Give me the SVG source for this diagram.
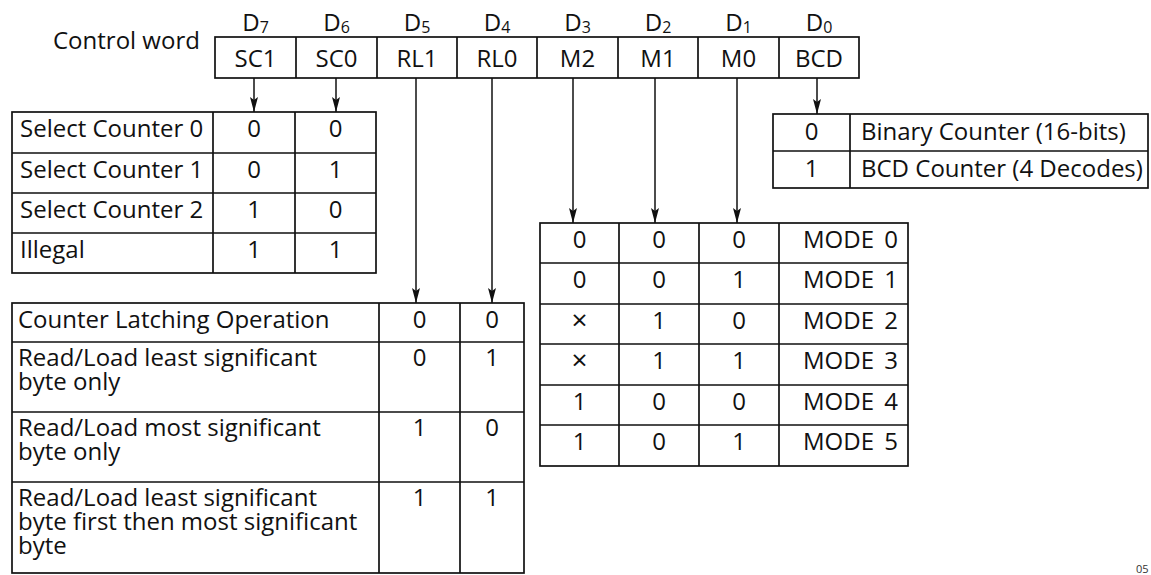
<svg xmlns="http://www.w3.org/2000/svg" width="1151" height="575" viewBox="0 0 1151 575">
<style>
  text { font-family: "Open Sans", "DejaVu Sans", sans-serif; font-size: 24px; fill: #111; }
  .c { text-anchor: middle; }
  .sub { font-size: 16px; }
  .x { font-size: 28px; }
  .box { fill: #fff; stroke: #111; stroke-width: 1.7; }
  .ln { stroke: #111; stroke-width: 1.7; fill: none; }
  .arr { stroke: #111; stroke-width: 1.5; fill: none; marker-end: url(#ah); }
  .fig { font-size: 11px; fill: #333; }
</style>
<defs>
  <marker id="ah" markerUnits="userSpaceOnUse" markerWidth="15" markerHeight="9" refX="15" refY="4.5" orient="auto">
    <path d="M0,0.5 L15,4.5 L0,8.5 L3,4.5 z" fill="#111"/>
  </marker>
</defs>
<rect width="1151" height="575" fill="#fff"/>

<g id="control-word">
  <text x="53" y="49">Control word</text>
  <rect class="box" x="215" y="37" width="644" height="41"/>
  <path class="ln" d="M296,37V78M377,37V78M457,37V78M537,37V78M618,37V78M698,37V78M779,37V78"/>
  <text class="c" x="255.5" y="31">D<tspan class="sub" dy="2">7</tspan></text>
  <text class="c" x="336.5" y="31">D<tspan class="sub" dy="2">6</tspan></text>
  <text class="c" x="417" y="31">D<tspan class="sub" dy="2">5</tspan></text>
  <text class="c" x="497" y="31">D<tspan class="sub" dy="2">4</tspan></text>
  <text class="c" x="577.5" y="31">D<tspan class="sub" dy="2">3</tspan></text>
  <text class="c" x="658" y="31">D<tspan class="sub" dy="2">2</tspan></text>
  <text class="c" x="738.5" y="31">D<tspan class="sub" dy="2">1</tspan></text>
  <text class="c" x="819" y="31">D<tspan class="sub" dy="2">0</tspan></text>
  <text class="c" x="255.5" y="67">SC1</text>
  <text class="c" x="336.5" y="67">SC0</text>
  <text class="c" x="417" y="67">RL1</text>
  <text class="c" x="497" y="67">RL0</text>
  <text class="c" x="577.5" y="67">M2</text>
  <text class="c" x="658" y="67">M1</text>
  <text class="c" x="738.5" y="67">M0</text>
  <text class="c" x="819" y="67">BCD</text>
</g>

<g id="table-select-counter">
  <rect class="box" x="12" y="112" width="364" height="161"/>
  <path class="ln" d="M213,112V273M295,112V273M12,153H376M12,193H376M12,233H376"/>
  <text x="20" y="137">Select Counter 0</text>
  <text x="20" y="178">Select Counter 1</text>
  <text x="20" y="218">Select Counter 2</text>
  <text x="20" y="258">Illegal</text>
  <text class="c" x="254" y="137">0</text><text class="c" x="335.5" y="137">0</text>
  <text class="c" x="254" y="178">0</text><text class="c" x="335.5" y="178">1</text>
  <text class="c" x="254" y="218">1</text><text class="c" x="335.5" y="218">0</text>
  <text class="c" x="254" y="258">1</text><text class="c" x="335.5" y="258">1</text>
</g>

<g id="table-bcd">
  <rect class="box" x="773" y="114" width="375" height="74"/>
  <path class="ln" d="M850,114V188M773,151H1148"/>
  <text class="c" x="811.5" y="140">0</text>
  <text x="861" y="140">Binary Counter (16-bits)</text>
  <text class="c" x="811.5" y="177">1</text>
  <text x="861" y="177">BCD Counter (4 Decodes)</text>
</g>

<g id="table-mode">
  <rect class="box" x="540" y="223" width="368" height="243"/>
  <path class="ln" d="M619,223V466M699,223V466M779,223V466M540,263H908M540,304H908M540,344H908M540,385H908M540,425H908"/>
  <text class="c" x="579.5" y="248">0</text><text class="c" x="659" y="248">0</text><text class="c" x="739" y="248">0</text><text x="803" y="248" word-spacing="4">MODE 0</text>
  <text class="c" x="579.5" y="288">0</text><text class="c" x="659" y="288">0</text><text class="c" x="739" y="288">1</text><text x="803" y="288" word-spacing="4">MODE 1</text>
  <text class="c x" x="579.5" y="330">×</text><text class="c" x="659" y="329">1</text><text class="c" x="739" y="329">0</text><text x="803" y="329" word-spacing="4">MODE 2</text>
  <text class="c x" x="579.5" y="370">×</text><text class="c" x="659" y="369">1</text><text class="c" x="739" y="369">1</text><text x="803" y="369" word-spacing="4">MODE 3</text>
  <text class="c" x="579.5" y="410">1</text><text class="c" x="659" y="410">0</text><text class="c" x="739" y="410">0</text><text x="803" y="410" word-spacing="4">MODE 4</text>
  <text class="c" x="579.5" y="450">1</text><text class="c" x="659" y="450">0</text><text class="c" x="739" y="450">1</text><text x="803" y="450" word-spacing="4">MODE 5</text>
</g>

<g id="table-rw">
  <rect class="box" x="12" y="303" width="512" height="270"/>
  <path class="ln" d="M379,303V573M460,303V573M12,342H524M12,412H524M12,482H524"/>
  <text x="18" y="328">Counter Latching Operation</text>
  <text x="18" y="366">Read/Load least significant<tspan x="18" dy="24">byte only</tspan></text>
  <text x="18" y="436">Read/Load most significant<tspan x="18" dy="24">byte only</tspan></text>
  <text x="18" y="506">Read/Load least significant<tspan x="18" dy="24">byte first then most significant</tspan><tspan x="18" dy="24">byte</tspan></text>
  <text class="c" x="419.5" y="328">0</text><text class="c" x="492" y="328">0</text>
  <text class="c" x="419.5" y="366">0</text><text class="c" x="492" y="366">1</text>
  <text class="c" x="419.5" y="436">1</text><text class="c" x="492" y="436">0</text>
  <text class="c" x="419.5" y="506">1</text><text class="c" x="492" y="506">1</text>
</g>

<g id="connectors">
  <line class="arr" x1="254" y1="78" x2="254" y2="112"/>
  <line class="arr" x1="336" y1="78" x2="336" y2="112"/>
  <line class="arr" x1="416" y1="78" x2="416" y2="303"/>
  <line class="arr" x1="492" y1="78" x2="492" y2="303"/>
  <line class="arr" x1="573" y1="78" x2="573" y2="223"/>
  <line class="arr" x1="655" y1="78" x2="655" y2="223"/>
  <line class="arr" x1="737" y1="78" x2="737" y2="223"/>
  <line class="arr" x1="817" y1="78" x2="817" y2="114"/>
</g>

<text class="fig" x="1136" y="573">05</text>
</svg>
